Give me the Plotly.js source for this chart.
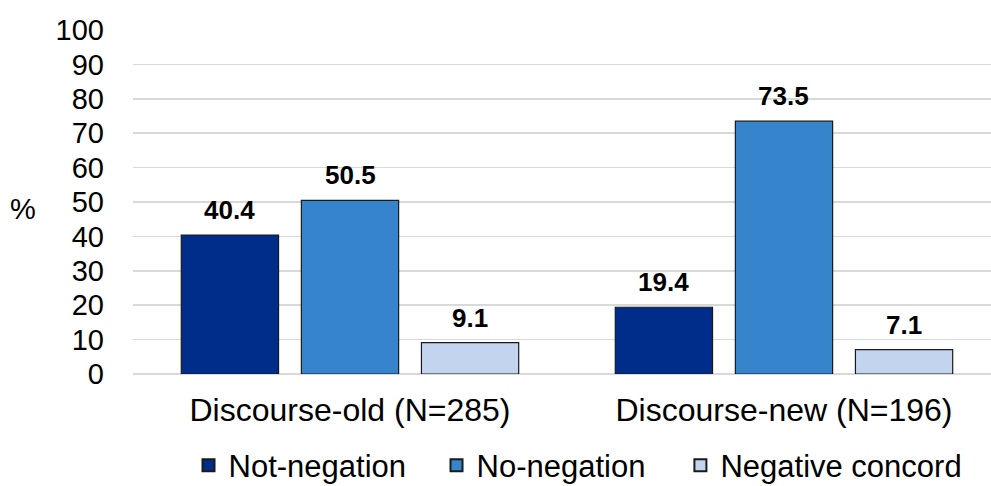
<!DOCTYPE html>
<html>
<head>
<meta charset="utf-8">
<script src="https://cdn.plot.ly/plotly-3.0.1.min.js"></script>
<style>html,body{margin:0;padding:0;background:#fff;}#chart{width:991px;height:486px;}</style>
</head>
<body>
<div id="chart"></div>
<script>
const categories = ["Discourse-old (N=285)", "Discourse-new (N=196)"];
const seriesNames = ["Not-negation", "No-negation", "Negative concord"];
const notNegation = [40.4, 19.4];
const noNegation = [50.5, 73.5];
const negativeConcord = [9.1, 7.1];
const colors = ["#002D8A", "#3584CC", "#C3D5EE"];

const FONT = "Liberation Sans, Arial, sans-serif";
const seriesValues = [notNegation, noNegation, negativeConcord];
const legendIds = ["legend", "legend", "legend2"];
const bargap = 0.17;

const traces = seriesValues.map((vals, i) => ({
  type: "bar",
  name: seriesNames[i],
  legend: legendIds[i],
  x: categories,
  y: vals,
  marker: {color: colors[i], line: {color: "#1a1a1a", width: 1.2}},
  hoverinfo: "skip"
}));

const slot = (1 - bargap) / 3;
const annotations = [];
seriesValues.forEach((vals, i) => {
  vals.forEach((v, j) => {
    annotations.push({
      x: j + (i - 1) * slot, y: v, xref: "x", yref: "y",
      text: "<b>" + v.toFixed(1) + "</b>", showarrow: false,
      yanchor: "bottom", yshift: 8,
      font: {family: FONT, size: 26, color: "#000"}
    });
  });
});
annotations.push({
  xref: "paper", yref: "y", x: -0.128, y: 48, xanchor: "center",
  text: "%", showarrow: false, font: {family: FONT, size: 29, color: "#000"}
});

const legendFont = {family: FONT, size: 31, color: "#000"};
const layout = {
  width: 991, height: 486,
  margin: {l: 133, r: 0, t: 30, b: 112},
  paper_bgcolor: "#fff", plot_bgcolor: "#fff",
  barmode: "group", bargap: bargap, bargroupgap: 0.19,
  font: {family: FONT, color: "#000"},
  xaxis: {
    type: "category", range: [-0.5, 1.477],
    showgrid: false, zeroline: false, showline: false,
    ticks: "", ticklabelstandoff: 14,
    tickfont: {family: FONT, size: 32, color: "#000"}
  },
  yaxis: {
    range: [0, 100], dtick: 10, tick0: 0,
    showgrid: true, gridcolor: "#d9d9d9", gridwidth: 1.5,
    zeroline: true, zerolinecolor: "#d9d9d9", zerolinewidth: 1.5,
    showline: false, ticks: "", ticklabelstandoff: 28,
    tickfont: {family: FONT, size: 29, color: "#000"}
  },
  showlegend: true,
  legend: {
    orientation: "h", xref: "paper", yref: "container",
    x: 0.0647, xanchor: "left", y: 0.042, yanchor: "middle",
    font: legendFont, entrywidth: 203, entrywidthmode: "pixels",
    itemsizing: "constant", traceorder: "normal"
  },
  legend2: {
    orientation: "h", xref: "paper", yref: "container",
    x: 0.638, xanchor: "left", y: 0.042, yanchor: "middle",
    font: legendFont, itemsizing: "constant"
  },
  annotations: annotations
};

Plotly.newPlot("chart", traces, layout, {displayModeBar: false, staticPlot: true});
</script>
</body>
</html>
